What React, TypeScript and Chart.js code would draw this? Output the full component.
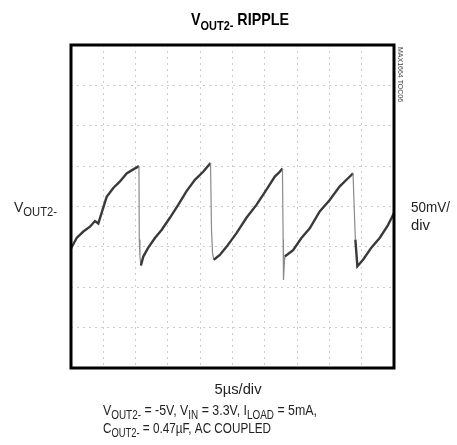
import React, { useEffect, useRef } from "react";
import { Chart, registerables } from "chart.js";

Chart.register(...registerables);

// time in microseconds (5 µs/div, 10 divisions)
const timeUs = [
  0, 0.88, 1.91, 2.94, 3.71, 4.23, 4.74, 5.52, 6.55, 7.58, 8.61, 9.64, 10.52,
  10.57, 10.67, 10.82,
  11.19, 11.96, 12.99, 14.02, 15.31, 16.6, 17.89, 19.18, 20.46, 21.6,
  21.75, 21.91, 22.11,
  23.04, 24.07, 25.62, 27.16, 28.71, 30.26, 31.55, 32.32, 32.73,
  32.84, 32.89, 33.09,
  34.38, 35.67, 36.96, 38.5, 40.05, 41.6, 42.89, 43.66,
  43.87, 44.02, 44.33,
  45.21, 46.49, 47.78, 49.07, 50,
];
// ripple in millivolts (50 mV/div, AC coupled)
const rippleMv = [
  -52, -39, -31, -25, -18, -21, -8, 12, 23, 31, 41, 46, 50,
  -41, -62, -73,
  -62, -51, -39, -29, -14, 2, 19, 33, 43, 54,
  -29, -58, -66,
  -60, -50, -33, -14, 2, 21, 37, 43, 47,
  -41, -91, -62,
  -54, -39, -27, -6, 8, 25, 35, 41,
  -8, -41, -74,
  -66, -51, -39, -23, -8,
];

const xTicksUs = [0, 5, 10, 15, 20, 25, 30, 35, 40, 45, 50];
const yTicksMv = [-200, -150, -100, -50, 0, 50, 100, 150, 200];

const FONT = '"Liberation Sans", Arial, sans-serif';

type Part = { t: string; sub?: boolean };

function drawRich(
  ctx: CanvasRenderingContext2D,
  parts: Part[],
  x: number,
  y: number,
  size: number,
  align: "left" | "center",
  bold = false,
  targetWidth = 0
) {
  const subSize = Math.round(size * 0.78);
  const w = bold ? "bold " : "";
  let total = 0;
  parts.forEach((p) => {
    ctx.font = `${w}${p.sub ? subSize : size}px ${FONT}`;
    total += ctx.measureText(p.t).width;
  });
  const sx = targetWidth > 0 ? targetWidth / total : 1;
  const drawnW = total * sx;
  const startX = align === "center" ? x - drawnW / 2 : x;
  ctx.save();
  ctx.translate(startX, y);
  ctx.scale(sx, 1);
  ctx.textBaseline = "alphabetic";
  ctx.textAlign = "left";
  let cx = 0;
  parts.forEach((p) => {
    ctx.font = `${w}${p.sub ? subSize : size}px ${FONT}`;
    ctx.fillText(p.t, cx, p.sub ? size * 0.28 : 0);
    cx += ctx.measureText(p.t).width;
  });
  ctx.restore();
}

const decorPlugin = {
  id: "decor",
  afterDraw(chart: any) {
    const { ctx, chartArea } = chart;
    const { left, top, right, bottom } = chartArea;
    ctx.save();
    // frame
    ctx.strokeStyle = "#000";
    ctx.lineWidth = 3;
    ctx.strokeRect(left, top, right - left, bottom - top);

    ctx.fillStyle = "#000";
    // title
    drawRich(ctx, [{ t: "V" }, { t: "OUT2-", sub: true }, { t: " RIPPLE" }], 240, 25, 17, "center", true, 98);
    // left label
    ctx.fillStyle = "#222";
    drawRich(ctx, [{ t: "V" }, { t: "OUT2-", sub: true }], 14, 212, 15, "left", false, 43);
    // right label
    drawRich(ctx, [{ t: "50mV/" }], 411, 212, 15, "left", false, 39);
    drawRich(ctx, [{ t: "div" }], 411, 230, 15, "left", false, 19);
    // bottom
    drawRich(ctx, [{ t: "5\u00b5s/div" }], 238, 394, 15, "center", false, 47);
    drawRich(
      ctx,
      [
        { t: "V" }, { t: "OUT2-", sub: true }, { t: " = -5V, V" }, { t: "IN", sub: true },
        { t: " = 3.3V, I" }, { t: "LOAD", sub: true }, { t: " = 5mA," },
      ],
      103, 415, 15, "left", false, 214
    );
    drawRich(
      ctx,
      [{ t: "C" }, { t: "OUT2-", sub: true }, { t: " = 0.47\u00b5F, AC COUPLED" }],
      103, 433, 15, "left", false, 168
    );
    // watermark
    ctx.save();
    ctx.translate(400, 47);
    ctx.rotate(Math.PI / 2);
    ctx.font = `7px ${FONT}`;
    ctx.fillStyle = "#444";
    ctx.textBaseline = "middle";
    ctx.textAlign = "left";
    ctx.fillText("MAX1664 TOC06", 0, 0);
    ctx.restore();
    ctx.restore();
  },
};

export default function App() {
  const ref = useRef<HTMLCanvasElement | null>(null);
  useEffect(() => {
    if (!ref.current) return;
    const chart = new Chart(ref.current, {
      type: "line",
      data: {
        datasets: [
          {
            data: timeUs.map((t, i) => ({ x: t, y: rippleMv[i] })),
            borderColor: "#3a3a3a",
            borderWidth: 2.4,
            pointRadius: 0,
            tension: 0,
            segment: {
              borderColor: (c: any) =>
                Math.abs(c.p1.parsed.x - c.p0.parsed.x) < 0.3 ? "#8a8a8a" : "#3a3a3a",
              borderWidth: (c: any) =>
                Math.abs(c.p1.parsed.x - c.p0.parsed.x) < 0.3 ? 1.2 : 2.4,
            },
          },
        ],
      },
      options: {
        responsive: false,
        animation: false,
        layout: { padding: { left: 71, right: 63, top: 45, bottom: 77 } },
        plugins: { legend: { display: false }, tooltip: { enabled: false }, title: { display: false } },
        scales: {
          x: {
            type: "linear",
            min: xTicksUs[0],
            max: xTicksUs[xTicksUs.length - 1],
            afterBuildTicks: (s: any) => {
              s.ticks = xTicksUs.map((v) => ({ value: v }));
            },
            ticks: { display: false },
            border: { display: false, dash: [2, 4] },
            grid: { color: "#cdcdcd", lineWidth: 1, drawTicks: false },
          },
          y: {
            type: "linear",
            min: yTicksMv[0],
            max: yTicksMv[yTicksMv.length - 1],
            afterBuildTicks: (s: any) => {
              s.ticks = yTicksMv.map((v) => ({ value: v }));
            },
            ticks: { display: false },
            border: { display: false, dash: [2, 4] },
            grid: { color: "#cdcdcd", lineWidth: 1, drawTicks: false },
          },
        },
      } as any,
      plugins: [decorPlugin],
    });
    return () => chart.destroy();
  }, []);
  return (
    <div style={{ position: "fixed", left: 0, top: 0, width: 457, height: 445, background: "#fff" }}>
      <canvas ref={ref} width={457} height={445} style={{ display: "block" }} />
    </div>
  );
}
